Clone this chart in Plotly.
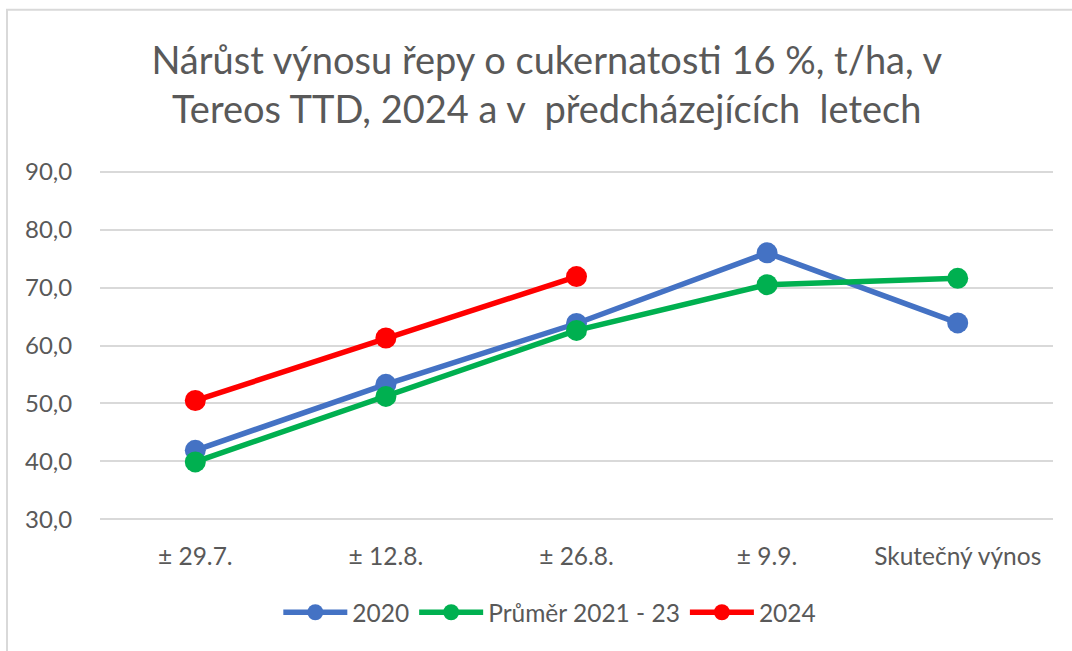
import plotly.graph_objects as go

categories = ["± 29.7.", "± 12.8.", "± 26.8.", "± 9.9.", "Skutečný výnos"]
s2020 = [41.9, 53.3, 63.8, 76.0, 63.9]
prumer = [39.9, 51.2, 62.6, 70.5, 71.6]
s2024 = [50.5, 61.3, 71.9]
y_ticks = [30, 40, 50, 60, 70, 80, 90]

FONT = "Lato"
GRAY = "#595959"

fig = go.Figure()
series = [
    ("2020", s2020, "#4472C4"),
    ("Průměr 2021 - 23", prumer, "#00B050"),
    ("2024", s2024, "#FF0000"),
]
for name, vals, col in series:
    fig.add_trace(go.Scatter(
        x=categories[:len(vals)], y=vals, name=name, mode="lines+markers",
        line=dict(color=col, width=5.5),
        marker=dict(color=col, size=21),
    ))

T, B = 166.2, 126.2
PH = 651 - T - B

fig.update_layout(
    width=1072, height=651,
    paper_bgcolor="white", plot_bgcolor="white",
    separators=",.",
    margin=dict(l=100, r=19, t=T, b=B, autoexpand=False),
    title=dict(
        text="Nárůst výnosu řepy o cukernatosti 16 %, t/ha, v<br>Tereos TTD, 2024 a v  předcházejících  letech",
        x=0.51, xanchor="center", xref="container",
        y=1 - 74 / 651, yanchor="middle", yref="container",
        font=dict(family=FONT, size=38, color=GRAY),
    ),
    font=dict(family=FONT, color=GRAY),
    showlegend=True,
    legend=dict(
        orientation="h", x=0.472, xanchor="center", xref="paper",
        y=(651 - B - 612) / PH, yanchor="middle",
        font=dict(family=FONT, size=24.5, color=GRAY),
        itemwidth=64,
    ),
    xaxis=dict(
        type="category", categoryorder="array", categoryarray=categories,
        range=[-0.5, 4.5], automargin=False,
        showgrid=False, showline=False, zeroline=False,
        ticks="outside", ticklen=10, tickcolor="rgba(0,0,0,0)",
        tickfont=dict(family=FONT, size=24.5, color=GRAY),
    ),
    yaxis=dict(
        range=[29, 91], tickvals=y_ticks, tickformat=".1f", automargin=False,
        showgrid=True, gridcolor="#D9D9D9", gridwidth=2,
        zeroline=False, showline=False,
        ticks="outside", ticklen=22, tickcolor="rgba(0,0,0,0)",
        tickfont=dict(family=FONT, size=24, color=GRAY),
    ),
    shapes=[dict(
        type="rect", xref="paper", yref="paper",
        x0=-0.0976, x1=1.2, y0=-0.6, y1=(651 - B - 10) / PH,
        line=dict(color="#D9D9D9", width=2), fillcolor="rgba(0,0,0,0)",
        layer="below",
    )],
)

fig.write_html("out.html", config={"displayModeBar": False},
               post_script="document.body.style.margin='0';")
